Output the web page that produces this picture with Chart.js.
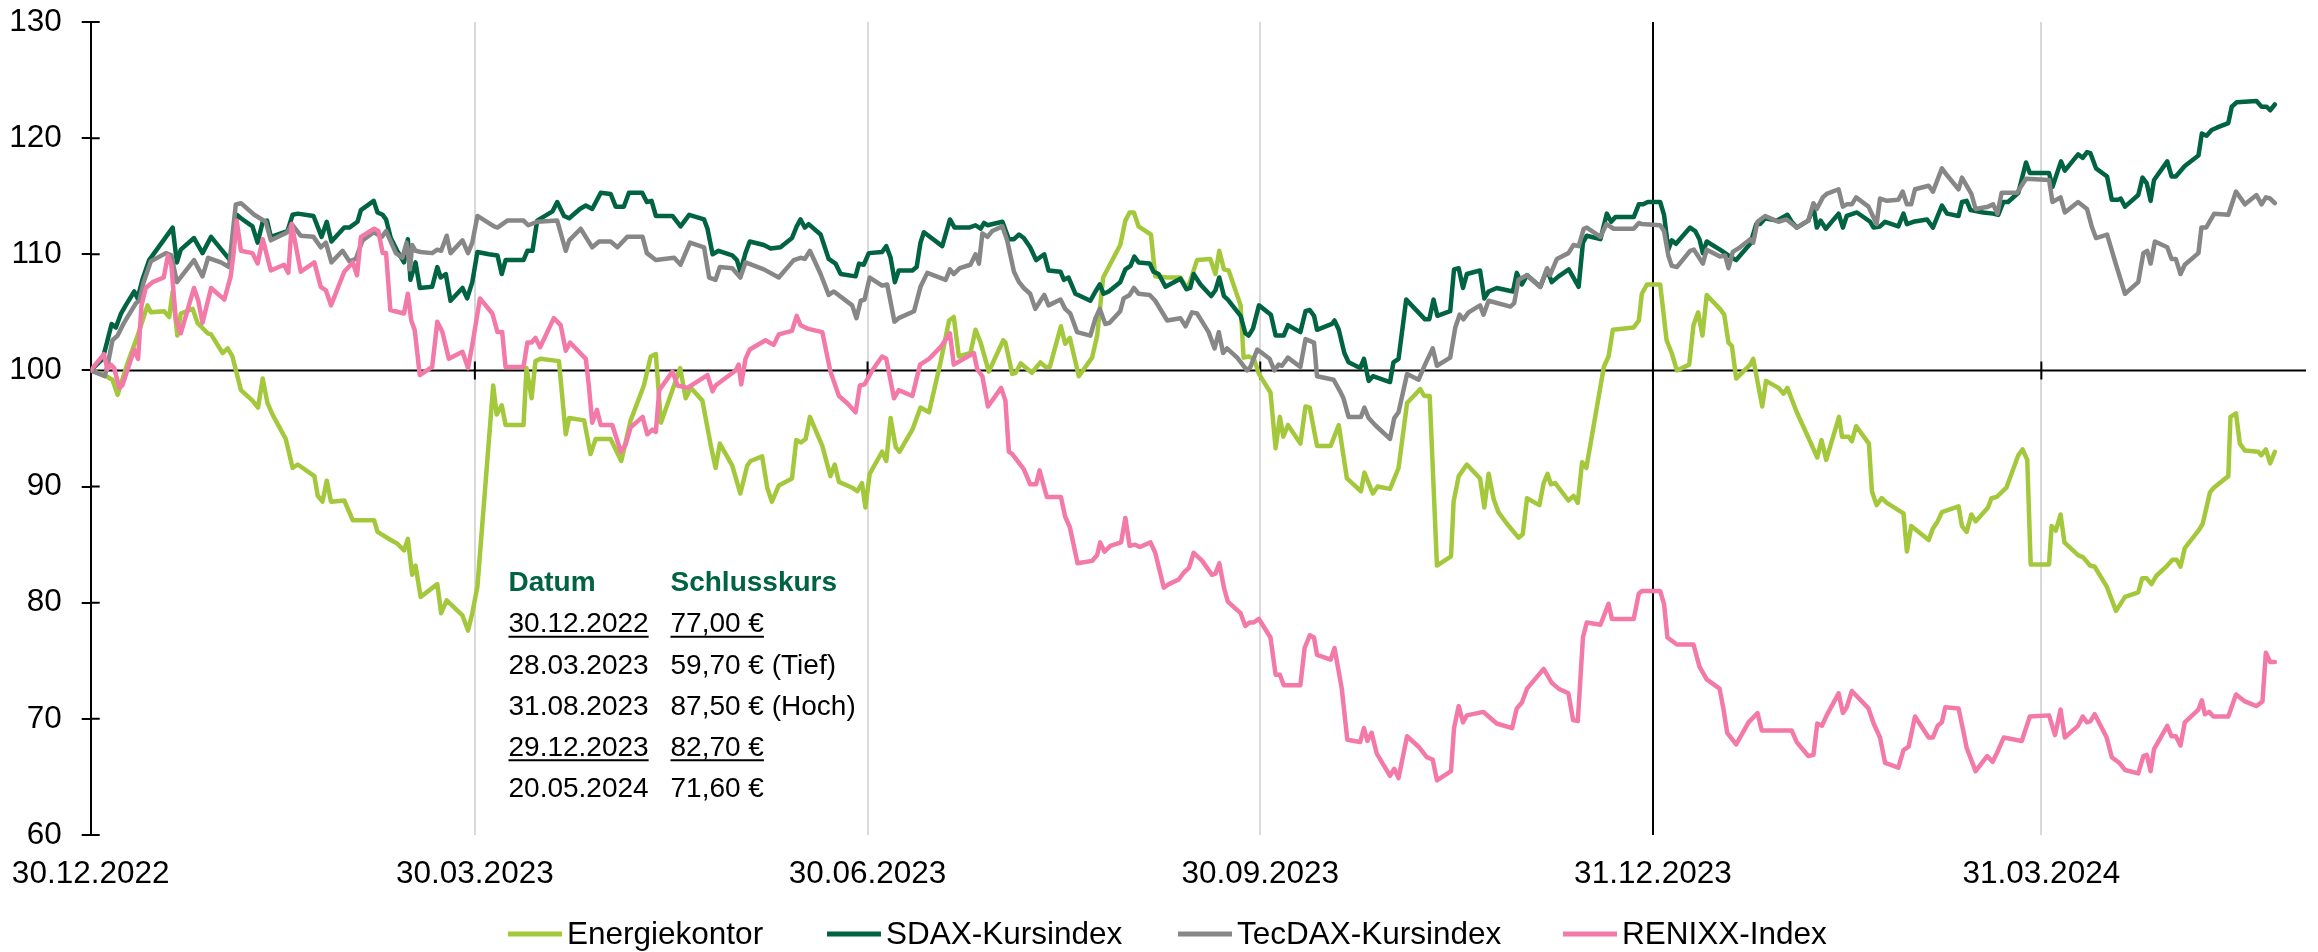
<!DOCTYPE html>
<html><head><meta charset="utf-8">
<script src="https://cdn.jsdelivr.net/npm/chart.js@4.4.1/dist/chart.umd.min.js"></script>
<style>html,body{margin:0;padding:0;background:#fff;}#wrap{width:2318px;height:952px;position:relative;}</style>
</head><body><div id="wrap"><canvas id="c" width="2318" height="952"></canvas></div>
<script>
// ---- data (x = days since 30.12.2022, y = index, 30.12.2022 = 100) ----
const tickLabels = ['30.12.2022','30.03.2023','30.06.2023','30.09.2023','31.12.2023','31.03.2024'];
const seriesNames = ['Energiekontor','SDAX-Kursindex','TecDAX-Kursindex','RENIXX-Index'];
const energiekontor = [[0,100],[3.1,99.6],[5.1,99.2],[6.3,97.9],[8.6,100.6],[11,103],[13.3,105.6],[14.1,105],[17.2,105.1],[18.4,104.6],[19.2,106.8],[20.3,103],[21.1,104.9],[23.9,105.3],[25,104.1],[27.4,103.2],[28.2,103.1],[30.9,101.5],[32.1,101.9],[33.2,101.2],[35.2,98.3],[37.9,97.4],[39.2,96.8],[40.3,99.3],[41.4,97.2],[42.6,96.2],[45.7,94.1],[47.3,91.6],[48.5,91.9],[52.4,90.9],[53.2,89.2],[54.3,88.7],[55.3,90.5],[56.3,88.7],[59.4,88.8],[61.4,87.1],[66.4,87.1],[67.2,86.1],[70.3,85.4],[71.8,85.1],[73.4,84.5],[74.3,85.5],[75.3,82.4],[76.1,83.2],[77.3,80.5],[81.2,81.6],[82.1,79.1],[83.4,80.2],[87.1,78.9],[88.4,77.6],[89.4,79.1],[90.6,81.4],[94.3,98.7],[95.1,96.2],[96.3,97],[97.2,95.3],[101.4,95.3],[102.1,100.2],[103.3,97.6],[104.2,100.8],[105.4,101],[109.7,100.8],[111.3,94.5],[112.1,95.9],[115.6,95.7],[117.1,92.8],[118.3,94.1],[121.8,94.1],[124.3,92.2],[126.5,95.7],[129.6,98.7],[131.2,101.2],[132.4,101.4],[133.6,95.5],[138.1,100.2],[139.4,97.6],[140.6,98.5],[143.3,97.4],[145.3,93.5],[146.4,91.6],[147.4,93.7],[150.3,91.8],[152.2,89.4],[153.8,91.8],[154.6,92.2],[157.3,92.6],[158.5,89.9],[159.6,88.7],[161.2,90.1],[164.3,90.7],[165.3,94],[166.4,93.8],[167.5,94.1],[168.5,96],[171.4,93.5],[173.3,90.9],[174.3,91.9],[175.3,90.4],[178.4,89.9],[179.6,89.6],[180.7,90.3],[181.5,88.2],[182.5,91.1],[185.4,93],[186.4,92.2],[187.4,95.9],[188.6,93.4],[189.5,93],[192.5,94.9],[194.4,96.8],[196.4,96.4],[199.1,100.7],[201.1,104.3],[202.2,104.6],[203.4,101.2],[206.1,101.5],[207.3,103.5],[208.5,102.4],[210.4,99.9],[213.8,102.6],[214.3,102.4],[215.9,99.7],[216.7,99.8],[217.9,100.6],[220.5,99.8],[222.5,100.7],[223.7,100.3],[224.7,100.3],[227.3,103.8],[228.3,102.3],[229.4,102.8],[231.5,99.5],[234.6,101.1],[235.8,103],[237.2,108],[241.2,110.8],[242.4,112.9],[243.4,113.6],[244.4,113.6],[245.5,112.4],[248.4,111.7],[249.4,108.1],[252.2,108],[255.3,108],[256.9,107],[257.5,107.6],[259.2,109.5],[262.3,109.6],[263.5,108.3],[264.4,110.3],[265.5,108.7],[266.6,108.6],[269.4,105.6],[270.1,101.1],[271.3,101.2],[272.5,101],[273.7,99.7],[276.4,98.1],[277.6,93.3],[278.6,96],[279.4,94.3],[280.5,95.3],[283.4,93.7],[284.6,96.9],[285.6,96.8],[287.3,93.5],[290.5,93.5],[292.4,95.3],[294.3,90.7],[297.6,89.6],[298.4,91.2],[300.4,89.4],[301.5,90],[304.4,89.8],[306.4,91.6],[308.4,97.2],[311.5,98.4],[312.4,97.8],[313.7,97.8],[315.4,83.2],[318.7,84],[319.3,88.7],[320.5,90.9],[322.4,91.9],[325.5,90.7],[326.5,88.2],[327.5,91.1],[328.7,88.9],[329.8,87.8],[331.8,86.8],[334.5,85.6],[335.5,85.9],[336.5,89],[339.4,88.4],[340.4,90.3],[341.3,91.1],[342.1,90.2],[343.1,90.3],[346.2,88.8],[347.4,89.2],[348.4,88.6],[349.4,92.1],[350.4,91.6],[354.5,100.3],[355.6,101.2],[356.6,103.5],[361.5,103.7],[362.7,104.3],[363.4,106.6],[364.6,107.4],[367.7,107.4],[369.2,102.6],[370.4,101.5],[371.6,100],[374.5,100.5],[375.5,103.9],[376.6,105],[377.6,103],[378.6,106.5],[381.7,105.3],[382.7,104.8],[383.7,102.4],[384.5,102.1],[385.5,99.3],[388.8,100.5],[389.5,101],[391.6,96.9],[392.5,99.1],[395.4,98.5],[396.6,98],[397.5,98.5],[399.7,96.4],[402.8,93.9],[404.5,92.5],[405.5,94],[406.6,92.3],[409.6,96],[410.3,94.3],[411.8,94.3],[412.6,93.9],[413.6,95.2],[416.6,93.7],[417.3,89.6],[418.4,88.4],[419.6,89],[420.8,88.6],[424.7,87.7],[425.5,84.4],[426.5,86.6],[430.6,85.4],[431.6,86.4],[432.7,87],[433.7,87.8],[437.6,88.3],[438.4,86.6],[439.5,86.1],[440.6,87.6],[441.6,87],[444.5,88.2],[445.3,89],[446.5,89.1],[448.8,89.9],[451.6,92.7],[452.6,93.2],[453.7,92.3],[454.5,83.3],[458.8,83.3],[459.4,86.6],[460.4,86.2],[461.5,87.6],[462.4,85.2],[465.6,84.1],[466.8,83.9],[468.4,83.2],[469.5,83.1],[472.3,81.4],[474.5,79.3],[476.6,80.5],[479.7,80.9],[480.6,82.1],[481.7,82.1],[482.8,81.6],[483.9,82.3],[486.5,83.2],[487.7,83.7],[488.7,83.7],[489.6,83.1],[490.6,84.7],[493.8,86.2],[494.8,86.8],[496.5,89.5],[497.4,89.9],[500.8,90.9],[501.3,96],[502.6,96.3],[503.5,93.7],[504.7,93.1],[507.8,93],[508.5,92.7],[509.6,93.2],[510.6,92],[511.7,93]];
const sdax = [[0,100],[2.8,101],[3.8,102.4],[4.9,104],[5.9,103.7],[7.1,104.9],[8.2,105.6],[10.2,106.8],[11,106.2],[12.1,107.8],[13.7,109.5],[19.2,112.3],[20.2,109.3],[21.1,110.4],[24.2,111.4],[26.2,110.1],[28.2,111.5],[32.4,109.6],[33.2,109.6],[34.2,113.4],[35.2,113.1],[37.9,112.4],[39.1,111],[40.3,112.8],[41.3,112.9],[42.2,111.5],[46.1,112],[47.3,113.4],[48.5,113.5],[52.2,113.3],[54.1,111.5],[55.3,112.8],[56.4,111.1],[59.4,112.3],[60.6,112.3],[62.5,112.8],[63.3,113.8],[66.3,114.6],[67.2,113.6],[68.4,113.4],[69.2,113],[70.3,111.4],[71.8,110.3],[73.4,109.3],[74.3,111.3],[74.9,107.8],[76.1,109.3],[77.1,107.1],[80,107.2],[81.2,108.9],[82,108],[83.2,108.3],[84.3,106],[87.1,107.1],[88.2,106.2],[89.4,107.6],[90.6,110.2],[93.3,110],[95.3,109.9],[96.3,108.3],[97.2,109.5],[101.4,109.5],[102.3,110.3],[103.5,110.3],[104.6,112.9],[108.2,113.7],[109.3,114.5],[110.9,113.3],[112.1,113.1],[114.6,113.9],[116,114.2],[117.5,113.9],[119.5,115.3],[121.8,115.2],[123,114.1],[124.9,114.1],[126.1,115.3],[129.2,115.3],[130.3,114.5],[131.4,114.6],[132.4,113.3],[136.3,113.3],[138.2,112.4],[140.2,113.4],[143.7,113],[144.5,112.2],[145.7,110],[147.1,110.3],[150.3,109.9],[151.4,109.5],[152.2,108.5],[153.4,110.1],[154.4,111.1],[157.7,110.8],[159.3,110.5],[161.6,110.6],[164.3,111.4],[165.4,112.4],[166.3,113],[167.3,112.3],[168.2,112.6],[171,111.7],[172.9,109.6],[174.5,109.2],[175.7,108.3],[179.2,108.1],[180,109.2],[181.1,109.1],[182.3,110.1],[185.4,110.2],[186.4,110.7],[187.4,109.7],[188.4,107.6],[189.3,108.6],[192.5,108.6],[193.5,108.9],[194.4,111],[195.2,111.9],[199.5,110.7],[201.3,113],[202.4,112.3],[205.8,112.3],[207.3,112.5],[208.5,112.2],[209.3,112.7],[210.1,112.5],[213.6,112.8],[215.1,111.3],[216.3,111.3],[217.5,111.7],[218.6,111.4],[220.1,110.6],[221.5,109.5],[223.4,110],[224.4,108.6],[227.2,108.5],[228,107.8],[229.1,108],[230.7,106.6],[234.2,106],[235.4,106.8],[236.4,107.4],[237.3,106.6],[238.5,106.8],[241.2,107.6],[242.4,108.7],[243.6,109],[244.5,109.8],[245.5,109.3],[248.1,109.2],[249,108.5],[250.2,108.3],[251.8,107.2],[255.3,107.9],[256.7,107],[257.6,107.1],[258.4,108.3],[260,107.4],[262.5,106.4],[263.5,106.9],[264.4,108],[265.5,106.4],[266.4,106.1],[269.4,104.7],[270.5,103.2],[271.3,103],[272.3,103.6],[273.7,105.6],[276.5,104.8],[277.6,103],[279.5,103],[280.5,103.9],[283.4,103.3],[284.6,105.1],[285.6,105.2],[286.6,104.7],[287.3,103.5],[290.8,104],[291.4,104.3],[292.4,103.5],[293.7,101.5],[294.7,100.7],[297.4,100.2],[298.3,101],[299.4,99.1],[300.4,99.5],[304.4,99],[305.2,100.7],[306.4,101],[308.2,106.1],[312.6,104.4],[313.6,104.4],[314.6,106.1],[315.5,104.7],[318.5,105.1],[319.4,108.7],[320.5,108.8],[321.5,107.1],[322.4,108.3],[325.5,108.6],[326.5,106.2],[327.5,106.8],[329.4,107.1],[333.2,106.8],[334.1,108.4],[335.3,107.4],[336.5,108.2],[339.6,107.2],[341.2,108.7],[342.3,107.6],[343.9,108.1],[346.3,108.7],[348.6,107.2],[349.6,111],[350.5,111.6],[353.7,111.3],[355.2,113.5],[356.2,112.8],[357.2,113.2],[361.5,113.2],[362.7,114.3],[363.7,114.3],[364.8,114.5],[367.7,114.5],[368.6,113.4],[369.6,110.4],[370.4,111.2],[371.4,110.9],[374.7,112.3],[375.9,112],[376.9,111.3],[377.7,110.1],[378.6,111.1],[381.7,110.4],[382.9,110.1],[384.1,109.8],[385.5,109.5],[388.8,110.9],[390.2,112.6],[391.1,112.6],[392.3,113.1],[395,112.9],[397.5,113.4],[398.5,112.8],[399.7,112.3],[402.4,112.9],[403.6,114.1],[404.4,112.3],[405.3,112.9],[406.5,112.2],[409.5,113.5],[410.5,112.3],[411.4,113.3],[413.8,113.6],[416.9,112.8],[417.7,112.3],[419.2,112.4],[420.4,112.8],[423.5,112.4],[424.7,113.5],[425.5,112.6],[427,112.8],[430.2,113],[431.6,112.3],[433.7,114.2],[434.9,113.5],[437.6,113.3],[438.4,114.5],[439.5,114.6],[440.4,113.8],[443.4,113.6],[445.7,113.5],[446.9,113.4],[448.1,114.5],[449.2,114.5],[451.6,115.3],[453.4,117.9],[454.3,117],[458.8,117],[459.6,115.8],[461.6,118],[462.5,117.2],[465.6,118.6],[466.7,118.3],[467.7,118.8],[468.5,118.7],[469.8,117.4],[472.4,116.7],[473.5,114.7],[475,114.7],[475.6,114.8],[476.6,114.1],[479.7,115.1],[480.7,116.6],[481.7,116.1],[482.6,114.6],[483.4,116.4],[486.5,118],[487.5,116.7],[488.5,116.7],[490.6,117.6],[493.8,118.5],[494.6,120.4],[495.7,120.2],[496.9,120.7],[498.1,120.9],[500.8,121.3],[501.6,122.7],[502.8,123.1],[507.4,123.2],[508.6,122.7],[509.8,122.7],[510.6,122.4],[511.7,122.9]];
const tecdax = [[0,100],[3.3,99.5],[4.1,100.7],[5.1,102.6],[6.3,103],[7.8,104.1],[10.6,105.8],[11.4,106],[12.4,107.6],[14.1,109.4],[17.6,110.1],[18.9,109.9],[20.2,107.6],[24.2,109.5],[26.2,108.1],[27.5,109.7],[30.5,109.3],[32.4,108.9],[34,114.3],[35.2,114.4],[38.3,113.4],[41,112.8],[42.2,111.2],[46.1,111.9],[47.1,112.6],[49.2,111.6],[52.2,111.5],[53.9,110.6],[55.1,111],[56.4,109.3],[59,110.3],[60.6,109.4],[62.1,109.6],[63.7,111.2],[66.3,111.9],[68.2,111.5],[69.2,112],[71.5,110.1],[73,109.7],[74,111],[74.8,108.7],[75.3,110.8],[76.1,110.3],[77.3,110.2],[80,110.1],[81.2,110.4],[82.1,110.3],[83.4,111.6],[84.3,110.1],[87.1,111.2],[88.4,110.1],[89.4,111],[90.6,113.3],[94.5,112.4],[95.3,112.3],[97.6,112.9],[101.4,112.9],[102.5,112.5],[104.6,112.8],[109.3,112.9],[111.3,110.3],[112.1,111.2],[114.8,112.2],[117.5,110.6],[119.1,111.1],[121.8,111.1],[123.4,110.6],[125.7,111.5],[129.3,111.5],[130.3,110.1],[132.4,109.5],[136.7,109.7],[138.2,109.1],[140.4,111],[143.7,110.6],[144.9,108],[146.4,107.8],[147.4,108.9],[150.3,108.8],[152.2,108],[153.4,109.3],[157.7,108.7],[161.2,108],[164.7,109.5],[166.3,109.7],[167.3,109.6],[168.5,110.3],[171,108.3],[172.9,106.5],[174.1,106.8],[178.4,105.6],[179.4,104.5],[180.4,106],[181.3,106.1],[182.5,108],[185.4,107.3],[186.6,107.4],[188.3,104.2],[189.3,104.5],[192.9,105.1],[194.4,107.2],[196,108.4],[200.3,107.8],[201.3,108.7],[202.2,108.3],[203.6,108.8],[206.1,109.1],[207.3,110],[208.1,109.2],[208.9,111.8],[210.1,111.5],[211.2,112],[213.6,112.4],[214.7,111.2],[216.3,108.5],[217.5,107.6],[218.6,107.1],[220.1,106.6],[221.3,105.3],[222.5,106],[223.4,106.5],[224.4,105.6],[227.2,106.1],[228.3,105.3],[229.5,104.9],[231.1,103.3],[234.2,103],[235.4,104.5],[236.4,105.3],[237.7,104],[238.7,104.1],[241.2,105.1],[242,106.2],[243.4,106.5],[244.4,107.1],[245.5,106.6],[248.1,106.5],[249.4,106],[252.2,104.3],[255.3,104.5],[256.5,103.8],[258,105],[259.2,104.9],[261.9,103.3],[263.3,101.9],[264.3,103.3],[265.3,101.5],[266.2,101.9],[268.6,101.1],[270.9,100],[271.7,100.3],[273.3,101.8],[276.2,101],[277.3,100],[278.3,100.5],[279.1,100.4],[280.5,101.1],[283.4,100.3],[284.6,102.7],[286.6,102.4],[287.3,99.5],[291.2,99.2],[292.7,98.2],[293.5,97.6],[294.7,96],[297.6,96],[298.4,96.8],[299.4,95.9],[300.9,95.3],[304.4,94.1],[305.4,95.9],[306.4,96.4],[308.4,99.7],[311.1,99.2],[312.6,100.5],[314.4,101.9],[315.4,100.4],[318.5,101.1],[319.7,103.7],[320.7,104.8],[321.6,104.4],[322.8,105],[325.5,105.6],[326.3,104.8],[327.5,106],[332.6,105.5],[333.5,105.8],[334.5,107.8],[336.5,108.2],[339.6,107.2],[341.2,108.8],[341.9,108.2],[343.5,109.6],[346.2,110.1],[347.4,110.8],[348.6,110.7],[349.8,112.2],[350.5,112.3],[353.7,111.5],[355.1,112.6],[356.8,112.2],[361.5,112.2],[362.7,112.7],[363.4,112.6],[367.7,112.5],[368.6,112],[369.6,109.9],[370.4,109],[371.6,108.9],[374.7,110.3],[375.6,110.4],[377.7,109.2],[378.6,110.4],[381.7,109.8],[382.9,109.9],[383.7,108.8],[384.7,110.2],[386.4,110.6],[388.8,111.3],[389.5,111],[390.5,112.8],[392.3,113.3],[395.4,112.8],[397.3,113],[399.7,112.3],[402.4,112.9],[403.6,114.4],[404.4,113.9],[405.8,114.9],[406.7,115.2],[409.5,115.6],[410.5,114.1],[411.4,114.3],[412.6,114.3],[413.6,114.9],[416.5,114.1],[418.4,112.6],[419.2,114.8],[420.8,114.6],[423.5,114.7],[424.5,115.4],[425.5,114.3],[426.5,114.3],[427.4,115.6],[430.6,115.9],[431.6,115.4],[433.7,117.4],[434.9,116.8],[437.6,115.6],[438.4,116.6],[440.6,115.2],[441.6,113.9],[444.5,114.1],[445.7,114.3],[446.7,113.5],[447.7,115.3],[451.3,115.3],[453.4,116.5],[458.8,116.4],[459.6,114.5],[461.5,114.9],[462.5,113.6],[465.6,114.5],[467.7,113.9],[468.8,112.4],[469.8,111.4],[472.4,111.7],[474.5,109.1],[476.6,106.6],[479.7,107.6],[480.9,110.1],[481.8,110.3],[482.6,109.2],[483.6,111.1],[486.5,110.6],[487.5,109.6],[488.5,109.6],[489.6,108.3],[490.6,109.1],[493.8,110.1],[494.5,112.3],[495.6,112.3],[497.5,113.5],[500.8,113.4],[502.6,115.4],[504.7,114.3],[507.4,115.1],[508.6,114.3],[509.6,114.9],[510.6,114.8],[511.7,114.4]];
const renixx = [[0,100],[3.1,101.4],[3.9,100.1],[4.7,100.5],[5.5,100.2],[6.7,98.5],[7.4,98.7],[10.2,101.8],[11.1,101],[11.9,105.6],[12.9,107.1],[14.5,107.6],[17.1,108],[18.1,109.9],[18.9,109.1],[19.9,104.5],[21.1,103.2],[24.2,107.1],[25.2,106],[26.2,104.1],[28.2,107.1],[31.3,106.1],[32.8,108.1],[33.4,109.9],[34.2,112.9],[35.2,110.3],[37.9,110.1],[39.1,109.2],[40.3,111.3],[42.2,108.6],[45.3,109.1],[46.3,108.4],[47.1,112.6],[49.2,108.5],[52.4,109.3],[53.9,107.2],[55.1,106.9],[56.3,105.6],[59.4,108.5],[61.4,109.3],[62.4,108.2],[63.3,111.5],[66.4,112.2],[67.4,112],[68.4,110.1],[69.2,110.1],[70.2,105.2],[73.4,104.9],[74.3,106.6],[75.1,104.3],[75.9,103.5],[77.1,99.6],[80,100.3],[81.2,104.2],[82.4,103.3],[83.9,101],[87.1,101.6],[88.4,100.2],[89.4,102.2],[91.2,106.2],[94.1,104.9],[95.3,103.3],[96.4,103.3],[97.2,100.3],[101.4,100.3],[102.3,102.4],[103.3,102.4],[104.2,102.8],[105.3,102],[108.5,104.5],[110.1,103.9],[111.3,101.7],[112.3,102.4],[116,101],[116.7,98.7],[117.5,95.5],[118.6,96.6],[119.5,95.3],[122.2,95.3],[124.2,93],[125.3,93.6],[126.5,95.1],[129.3,96],[130.4,94.5],[131.6,94.9],[132.4,94.7],[133.2,98.3],[136.3,99.9],[137.5,98.7],[139.8,98.5],[144.5,99.6],[145.7,98.2],[146.4,98.7],[151.1,100],[151.8,100.5],[152.4,98.8],[153.4,101],[154.4,101.8],[158.1,102.6],[160,102.2],[161.2,103.1],[164.3,103.4],[165.4,104.7],[166.3,103.9],[167.9,103.6],[171.4,103.3],[173.3,99.9],[175.3,97.8],[177.2,97.2],[179.2,96.4],[180.2,98.7],[181.3,98.8],[183.1,100],[185.4,101.2],[186.4,101],[188.2,97.6],[189.3,98.3],[192.5,97.8],[194.3,100.5],[196.4,101],[199.1,102],[201.3,103.2],[202.2,100.5],[206.9,101.5],[207.7,100.1],[208.9,99.5],[210.2,96.9],[213.3,98.5],[214.3,97.4],[215.1,93],[215.9,92.8],[218.6,91.5],[220.1,90.2],[221.5,90.2],[222.3,91.4],[224,89.1],[227.3,89.1],[228.3,87.4],[229.4,86.5],[231.2,83.4],[234.6,83.6],[235.8,84.1],[236.5,85.2],[237.5,84.4],[238.9,84.9],[241.4,85.2],[242.4,87.3],[243.4,84.9],[244.7,85],[245.8,84.8],[248.3,85.2],[249.4,84.3],[251.4,81.3],[252.6,81.6],[254.9,82],[256.1,82.6],[257.3,83],[258.4,84.3],[260.4,83.6],[262.7,82.4],[263.5,82.5],[264.4,83.4],[265.5,81.3],[266.4,80.1],[269.4,79.1],[270.5,78],[271.5,78.3],[272.5,78.3],[273.7,78.6],[276.4,77],[277.6,73.8],[278.6,73.8],[279.5,72.9],[283.4,72.9],[284.4,76.1],[285.6,77.2],[286.6,77],[287.3,75.5],[290.5,75.1],[291.4,76.1],[293.1,72.6],[294.4,68.2],[297.4,68],[298.3,69.2],[299.1,68.1],[300.1,68.8],[301.3,67],[304.4,65.1],[305.4,65.7],[306.4,64.9],[308.4,68.5],[311.1,67.6],[313,66.7],[314.4,66.5],[315.4,64.7],[318.7,65.5],[319.4,69.2],[320.5,71.1],[321.5,69.7],[322.4,70.3],[326.3,70.6],[327.5,70.2],[329.4,69.6],[333,69.2],[334.1,70.9],[335.3,71.4],[336.5,72.6],[340.4,74.3],[342.3,73.1],[343.9,72.6],[346.2,72.2],[347.3,69.9],[348.4,69.8],[349.6,77],[350.5,78.3],[353.7,78.1],[355.6,79.9],[356.4,78.6],[361.5,78.6],[362.7,80.8],[363.4,81],[367.7,81],[368.6,79.9],[369.4,77],[371.6,76.4],[375.5,76.4],[376.9,74.5],[378.6,73.4],[381.6,72.6],[382.5,70.9],[383.4,68.8],[385.5,67.8],[388.4,69.7],[390.5,70.5],[391.5,69],[398.5,69],[399.7,68],[402.4,66.8],[403.6,66.9],[404.5,69.6],[405.6,69.4],[406.7,70.3],[409.5,72.2],[410.5,70.5],[411.4,71],[412.6,72.4],[416.5,70.9],[417.7,69.6],[419.2,68.4],[420.4,66.2],[423.5,65.8],[424.7,67.3],[425.9,67.6],[427.4,70.2],[430.6,68.4],[431.6,68.4],[432.7,69.4],[433.7,69.7],[434.5,71],[437.6,70.9],[438.8,68.8],[439.5,67.5],[441.6,65.5],[444.3,66.8],[445.6,66.3],[446.9,67.3],[448.2,68.4],[452.4,68.1],[454.3,70.2],[458.8,70.3],[460.2,68.6],[461.5,70.8],[462.5,68.4],[465.6,69.4],[466.7,70.2],[467.7,69.7],[468.5,69.8],[469.5,70.4],[472.3,68.4],[473.5,66.7],[475.3,66.2],[476.6,65.6],[479.7,65.3],[480.9,66.8],[481.7,66.9],[482.6,65.5],[483.4,67.4],[486.5,69.4],[487.5,68.5],[488.5,68.5],[489.6,67.7],[490.6,69.7],[493.8,70.8],[494.6,71.6],[495.3,70.4],[496.3,70.6],[497.3,70.2],[500.8,70.2],[502.6,72.1],[504.7,71.5],[507.4,71.1],[508.8,71.5],[509.6,75.7],[510.6,74.9],[511.7,74.9]];
const tableHeader = ['Datum','Schlusskurs'];
const tableDates = ['30.12.2022','28.03.2023','31.08.2023','29.12.2023','20.05.2024'];
const tablePrices = ['77,00 €','59,70 €','87,50 €','82,70 €','71,60 €'];
const tableNotes = ['','(Tief)','(Hoch)','',''];
const tableUnderlined = [true,false,false,true,false];

// ---- styling / helpers ----
const FONT = '"Liberation Sans", Arial, Helvetica, sans-serif';
const COLORS = ['#A4C83B','#006341','#878787','#F279A8'];
const GREEN_TEXT = '#006341';
function dayOf(label){ const [d,m,y] = label.split('.').map(Number); return Math.round((Date.UTC(y,m-1,d) - Date.UTC(2022,11,30))/86400000); }
const tickDays = tickLabels.map(dayOf);
const yearEndDay = dayOf('31.12.2023');
const toPts = arr => arr.map(([x,y]) => ({x, y}));

const decorPlugin = {
  id: 'decor',
  beforeDatasetsDraw(chart){
    const {ctx, chartArea:a, scales:{x, y}} = chart;
    ctx.save();
    ctx.strokeStyle = '#000'; ctx.lineWidth = 2;
    const y100 = y.getPixelForValue(100);
    ctx.beginPath();
    ctx.moveTo(a.left, y100); ctx.lineTo(a.right, y100);
    tickDays.forEach(d => { if (d === 0) return; const px = x.getPixelForValue(d); ctx.moveTo(px, y100 - 9); ctx.lineTo(px, y100 + 9); });
    y.ticks.forEach(t => { const py = y.getPixelForValue(t.value); ctx.moveTo(a.left, py); ctx.lineTo(a.left + 9, py); });
    ctx.stroke();
    ctx.restore();
  },
  afterDraw(chart){
    const ctx = chart.ctx;
    ctx.save();
    // legend
    ctx.font = `31.5px ${FONT}`;
    ctx.textBaseline = 'middle'; ctx.textAlign = 'left';
    const legStarts = [508, 827, 1178, 1563];
    const lineLen = 54, gapLT = 5, legY = 934;
    seriesNames.forEach((n,i) => {
      const lx = legStarts[i];
      ctx.fillStyle = COLORS[i];
      ctx.fillRect(lx, legY - 2.5, lineLen, 5);
      ctx.fillStyle = '#000';
      ctx.fillText(n, lx + lineLen + gapLT, legY + 1);
    });
    // table
    const c1 = 508.5, c2 = 670.5, r0 = 583.5, rs = 41.2;
    ctx.font = `bold 28px ${FONT}`;
    ctx.fillStyle = GREEN_TEXT;
    ctx.fillText(tableHeader[0], c1, r0);
    ctx.fillText(tableHeader[1], c2, r0);
    ctx.font = `28px ${FONT}`;
    ctx.fillStyle = '#000'; ctx.strokeStyle = '#000'; ctx.lineWidth = 2;
    tableDates.forEach((d,i) => {
      const ry = r0 + rs*(i+1);
      ctx.fillText(d, c1, ry);
      const p = tablePrices[i];
      ctx.fillText(p + (tableNotes[i] ? ' ' + tableNotes[i] : ''), c2, ry);
      if (tableUnderlined[i]) {
        const w1 = ctx.measureText(d).width, w2 = ctx.measureText(p).width;
        ctx.beginPath();
        ctx.moveTo(c1, ry + 12); ctx.lineTo(c1 + w1, ry + 12);
        ctx.moveTo(c2, ry + 12); ctx.lineTo(c2 + w2, ry + 12);
        ctx.stroke();
      }
    });
    ctx.restore();
  }
};

const common = {pointRadius:0, pointHoverRadius:0, borderWidth:4.5, fill:false, tension:0, borderJoinStyle:'round', borderCapStyle:'round'};
const allSeries = [energiekontor, sdax, tecdax, renixx];
new Chart(document.getElementById('c'), {
  type: 'line',
  data: {
    datasets: allSeries.map((s,i) => Object.assign({
      label: seriesNames[i], data: toPts(s), borderColor: COLORS[i], backgroundColor: COLORS[i], order: 4 - i
    }, common))
  },
  options: {
    responsive: false, animation: false, devicePixelRatio: 1,
    layout: {padding: {left: 10, right: 12, top: 22, bottom: 60}},
    plugins: {legend: {display: false}, tooltip: {enabled: false}},
    scales: {
      x: {
        type: 'linear', min: 0, max: 519,
        afterBuildTicks: s => { s.ticks = tickDays.map(v => ({value: v})); },
        afterFit: s => { s.height = 57; s.paddingLeft = 0; s.paddingRight = 0; },
        border: {display: false},
        grid: {
          drawTicks: false, lineWidth: 2,
          color: c => (c.tick && c.tick.value === yearEndDay) ? '#000' : ((c.tick && c.tick.value === 0) ? 'rgba(0,0,0,0)' : '#D9D9D9')
        },
        ticks: {
          autoSkip: false, maxRotation: 0, minRotation: 0, padding: 20, color: '#000',
          font: {family: FONT, size: 31.5},
          callback: v => { const i = tickDays.indexOf(v); return i >= 0 ? tickLabels[i] : ''; }
        }
      },
      y: {
        min: 60, max: 130,
        afterFit: s => { s.width = 80.7; s.paddingTop = 0; s.paddingBottom = 0; },
        border: {display: true, color: '#000', width: 2},
        grid: {drawOnChartArea: false, drawTicks: true, tickLength: 9, color: '#000', lineWidth: 2},
        ticks: {stepSize: 10, padding: 20, color: '#000', font: {family: FONT, size: 31.5}}
      }
    }
  },
  plugins: [decorPlugin]
});
</script></body></html>
